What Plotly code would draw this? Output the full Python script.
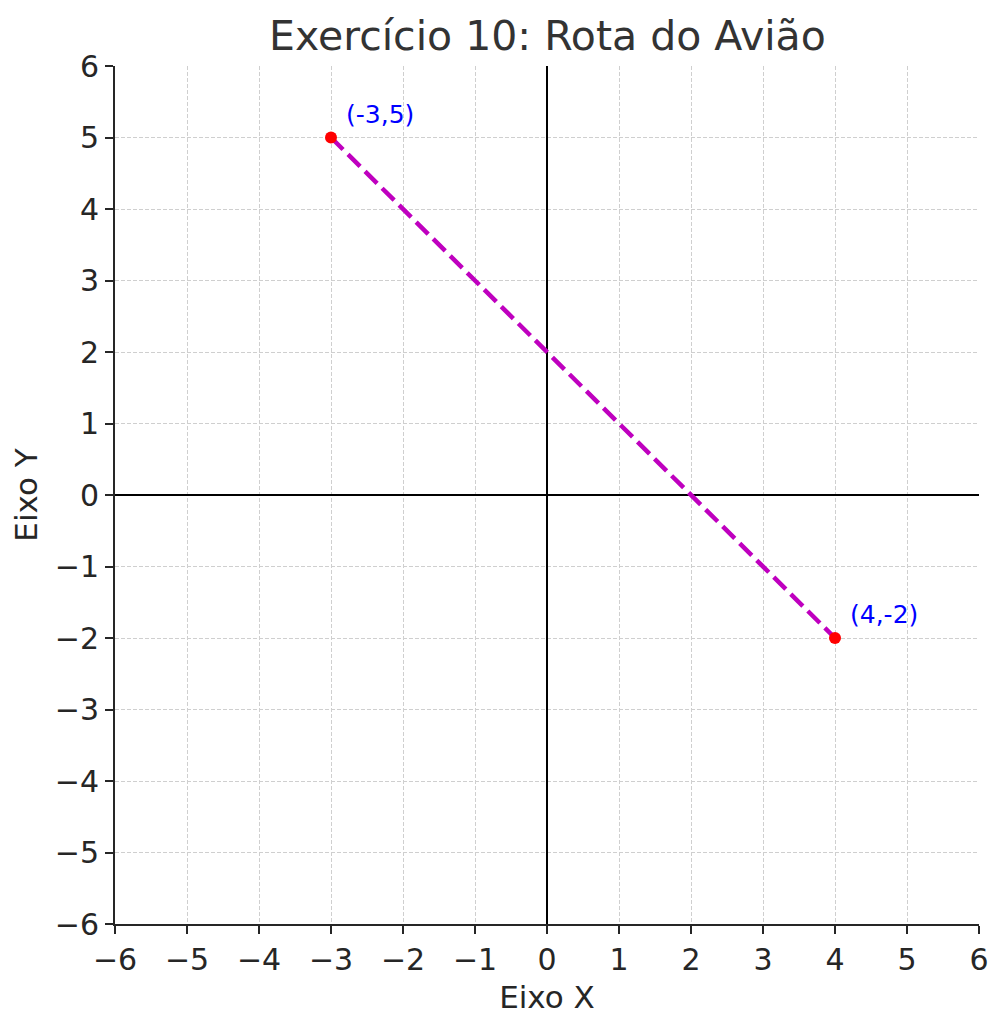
import plotly.graph_objects as go

x_vals = [-3, 4]
y_vals = [5, -2]
labels = ["(-3,5)", "(4,-2)"]
ticks = list(range(-6, 7))

fig = go.Figure()
fig.add_trace(go.Scatter(
    x=x_vals, y=y_vals, mode="lines",
    line=dict(color="#bf00bf", width=4.5, dash="17px,7px"),
    showlegend=False, hoverinfo="skip"))
fig.add_trace(go.Scatter(
    x=x_vals, y=y_vals, mode="markers",
    marker=dict(color="red", size=12),
    showlegend=False))

for xv, yv, lab in zip(x_vals, y_vals, labels):
    fig.add_annotation(x=xv, y=yv, text=lab, showarrow=False,
                       xanchor="left", yanchor="bottom", xshift=13, yshift=7,
                       font=dict(color="blue", size=25))

axis_common = dict(
    range=[-6, 6], tickvals=ticks,
    ticktext=[str(t).replace("-", "\u2212") for t in ticks],
    showgrid=True, gridcolor="#cfcfcf", griddash="4px,2px", gridwidth=1,
    zeroline=True, zerolinecolor="black", zerolinewidth=2.2,
    showline=True, linecolor="#262626", linewidth=2,
    ticks="outside", ticklen=8, tickwidth=2, tickcolor="#262626",
    tickfont=dict(size=30, color="#262626"),
    mirror=False,
)

fig.update_layout(
    width=999, height=1016,
    margin=dict(l=107, r=28, t=58, b=100),
    plot_bgcolor="white", paper_bgcolor="white",
    font=dict(family="DejaVu Sans", color="#262626"),
    title=dict(text="Exercício 10: Rota do Avião", x=0.540, xanchor="center",
               y=0.973, yanchor="middle", font=dict(size=41, color="#333333")),
    xaxis=dict(**axis_common, title=dict(text="Eixo X", font=dict(size=31), standoff=10)),
    yaxis=dict(**axis_common, title=dict(text="Eixo Y", font=dict(size=31), standoff=12)),
)

fig.write_html("out.html")
